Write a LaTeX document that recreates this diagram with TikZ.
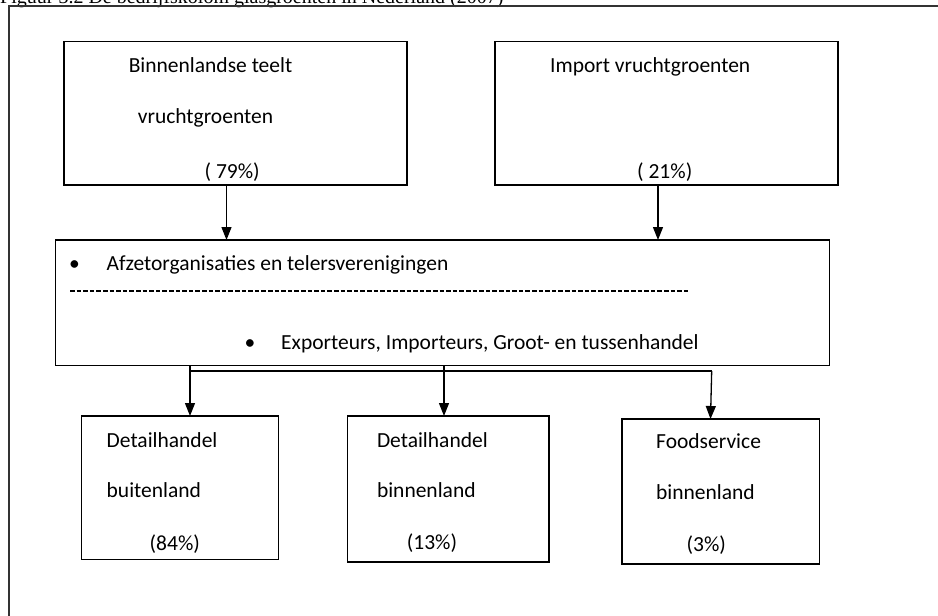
\documentclass[tikz,border=0pt]{standalone}
\usepackage{fontspec}
\setmainfont{Carlito}
\newfontfamily\capfont{Liberation Serif}
\usetikzlibrary{arrows.meta}
\begin{document}
\begin{tikzpicture}[x=1pt,y=-1pt,
  box/.style={draw=black,line width=1.4pt,inner sep=0pt,outer sep=0pt,rectangle},
  lbl/.style={anchor=base west,inner sep=0pt,font=\fontsize{21.5}{24}\selectfont},
  dot/.style={anchor=base,inner sep=0pt,font=\fontsize{21.5}{24}\selectfont},
  arr/.style={line width=1.3pt,-{Triangle[length=13pt,width=10pt]}},
  bus/.style={line width=1.3pt},
  ]
\useasboundingbox (0,0) rectangle (938,616);

% caption and page frame
\node[anchor=base west,inner sep=0pt,font=\capfont\fontsize{20}{22}\selectfont] (cap) at (0,3.5)
  {Figuur 3.2 De bedrijfskolom glasgroenten in Nederland (2007)};
\draw[line width=1.5pt,draw=black!80] (9,616) -- (9,6) -- (938,6);

% boxes
\node[box,minimum width=343pt,minimum height=143.3pt] (bin) at (235.5,113.35) {};
\node[box,minimum width=343pt,minimum height=143.3pt] (imp) at (666.5,113.35) {};
\node[box,minimum width=773.9pt,minimum height=125.7pt] (mid) at (442.55,302.85) {};
\node[box,minimum width=197.4pt,minimum height=143.3pt] (d1) at (180,487.65) {};
\node[box,minimum width=201.5pt,minimum height=146pt] (d2) at (448.25,489) {};
\node[box,minimum width=197.4pt,minimum height=145pt] (d3) at (720.7,491.5) {};

% texts of the supply boxes
\node[lbl] (t1a) at (128.6,72) {Binnenlandse teelt};
\node[lbl] (t1b) at (137.6,123.7) {vruchtgroenten};
\node[lbl] (t1c) at (204.5,178.7) {( 79\%)};
\node[lbl] (t2a) at (550,72) {Import vruchtgroenten};
\node[lbl] (t2c) at (637,178.7) {( 21\%)};

% texts of the trade box
\node[dot] (b1) at (74.5,270) {•};
\node[lbl] (m1) at (106.5,270) {Afzetorganisaties en telersverenigingen};
\draw[line width=1.1pt,dash pattern=on 4.5pt off 2.1pt] (70,291) -- (689,291);
\node[dot] (b2) at (250,349.7) {•};
\node[lbl] (m2) at (281,349.7) {Exporteurs, Importeurs, Groot- en tussenhandel};

% texts of the outlet boxes
\node[lbl] (d1a) at (106.5,447) {Detailhandel};
\node[lbl] (d1b) at (106.5,497.7) {buitenland};
\node[lbl] (d1c) at (149.5,550) {(84\%)};
\node[lbl] (d2a) at (376.8,447) {Detailhandel};
\node[lbl] (d2b) at (376.8,497.7) {binnenland};
\node[lbl] (d2c) at (406.7,549.7) {(13\%)};
\node[lbl] (d3a) at (656,448.5) {Foodservice};
\node[lbl] (d3b) at (656,499.5) {binnenland};
\node[lbl] (d3c) at (686.5,551) {(3\%)};

% supply arrows
\coordinate (a1) at ([xshift=-9pt]bin.south);
\coordinate (a2) at ([xshift=-8.5pt]imp.south);
\draw[arr] (a1) -- (a1 |- mid.north);
\draw[arr] (a2) -- (a2 |- mid.north);

% distribution bus
\coordinate (bl) at (190,371);
\coordinate (br) at (711.7,371);
\coordinate (tm) at ([xshift=1.45pt]mid.south);
\draw[bus] (bl |- mid.south) -- (tm);
\draw[bus] (bl) -- (br);
\draw[arr] (bl |- mid.south) -- (bl |- d1.north);
\draw[arr] (tm) -- (tm |- d2.north);
\draw[arr] (br) -- ([xshift=-10.2pt]d3.north);
\end{tikzpicture}
\end{document}
